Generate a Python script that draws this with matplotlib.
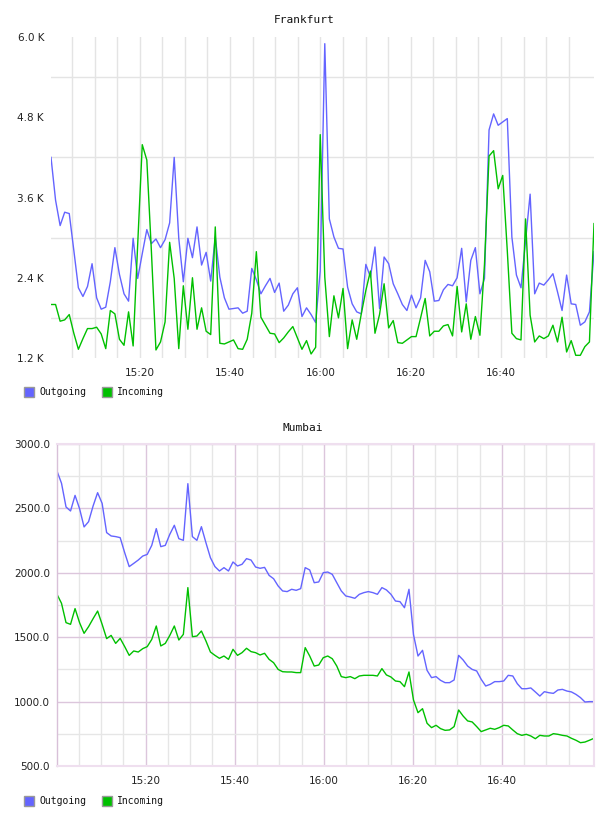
import matplotlib
matplotlib.use("Agg")
import matplotlib.pyplot as plt
import numpy as np
from matplotlib.patches import Rectangle

# --- data: one sample per ~minute, 15:00 -> 17:00 ---
tick_minutes = [20, 40, 60, 80, 100]          # minutes after 15:00
tick_labels = ["15:20", "15:40", "16:00", "16:20", "16:40"]

fra_span = (0.35, 120.6)   # first / last sample, minutes after 15:00
mum_span = (0.07, 120.7)

fra_out = [4200, 3560, 3180, 3380, 3360, 2810, 2250, 2120, 2270, 2610,
           2100, 1930, 1960, 2340, 2850, 2450, 2160, 2050, 2990, 2390,
           2760, 3120, 2910, 2980, 2850, 2970, 3220, 4200, 2990, 2340,
           2990, 2700, 3160, 2590, 2780, 2350, 3010, 2410, 2100, 1930,
           1940, 1950, 1870, 1900, 2540, 2370, 2160, 2280, 2390, 2180,
           2320, 1900, 1990, 2160, 2250, 1820, 1950, 1850, 1730, 2500,
           5900, 3280, 3010, 2840, 2830, 2260, 2010, 1890, 1860, 2600,
           2410, 2860, 1940, 2710, 2610, 2310, 2160, 2000, 1910, 2140,
           1950, 2100, 2660, 2490, 2050, 2060, 2220, 2300, 2280, 2400,
           2840, 2040, 2660, 2850, 2160, 2390, 4610, 4850, 4680, 4730,
           4780, 3010, 2440, 2250, 2950, 3650, 2160, 2320, 2290, 2370,
           2460, 2190, 1910, 2440, 2010, 2000, 1690, 1740, 1890, 2790]

fra_in = [2000, 2000, 1750, 1770, 1850, 1570, 1330, 1490, 1640, 1640,
          1660, 1560, 1340, 1910, 1860, 1480, 1390, 1890, 1380, 2900,
          4390, 4160, 2800, 1320, 1440, 1740, 2930, 2390, 1340, 2280,
          1630, 2400, 1630, 1950, 1600, 1550, 3160, 1420, 1410, 1440,
          1470, 1340, 1330, 1480, 1870, 2790, 1810, 1690, 1570, 1560,
          1430, 1500, 1590, 1670, 1500, 1330, 1460, 1260, 1360, 4540,
          2410, 1520, 2130, 1800, 2240, 1340, 1770, 1480, 1860, 2210,
          2500, 1570, 1850, 2310, 1650, 1760, 1430, 1420, 1470, 1520,
          1520, 1800, 2090, 1530, 1600, 1600, 1680, 1700, 1530, 2270,
          1590, 2010, 1480, 1820, 1540, 2600, 4220, 4300, 3730, 3930,
          2800, 1570, 1490, 1470, 3280, 1840, 1440, 1530, 1490, 1530,
          1690, 1440, 1810, 1290, 1460, 1240, 1240, 1370, 1440, 3210]

mum_out = [2790, 2695, 2511, 2480, 2601, 2498, 2356, 2397, 2519, 2622,
           2539, 2312, 2286, 2281, 2273, 2156, 2048, 2073, 2099, 2130,
           2143, 2213, 2343, 2203, 2213, 2299, 2369, 2265, 2252, 2692,
           2281, 2252, 2358, 2234, 2117, 2048, 2014, 2040, 2014, 2084,
           2053, 2066, 2110, 2099, 2045, 2035, 2042, 1980, 1954, 1898,
           1859, 1854, 1872, 1864, 1877, 2040, 2022, 1923, 1929, 2001,
           2006, 1988, 1923, 1859, 1820, 1812, 1802, 1833, 1846, 1854,
           1846, 1833, 1885, 1867, 1833, 1781, 1776, 1729, 1872, 1520,
           1354, 1398, 1243, 1186, 1194, 1165, 1147, 1147, 1168, 1359,
           1323, 1276, 1250, 1238, 1173, 1121, 1134, 1155, 1155, 1160,
           1204, 1199, 1139, 1100, 1100, 1106, 1075, 1043, 1077, 1069,
           1064, 1090, 1095, 1082, 1075, 1056, 1031, 997, 1000, 1000]

mum_in = [1833, 1763, 1613, 1600, 1722, 1613, 1530, 1582, 1644, 1703,
          1600, 1489, 1514, 1452, 1491, 1427, 1359, 1393, 1385, 1411,
          1427, 1483, 1587, 1432, 1452, 1514, 1587, 1478, 1522, 1885,
          1504, 1509, 1548, 1471, 1385, 1359, 1336, 1354, 1328, 1406,
          1359, 1380, 1414, 1388, 1380, 1362, 1375, 1328, 1302, 1250,
          1232, 1230, 1230, 1225, 1225, 1419, 1354, 1276, 1284, 1341,
          1354, 1333, 1276, 1194, 1186, 1194, 1178, 1199, 1204, 1204,
          1204, 1199, 1256, 1207, 1191, 1160, 1155, 1116, 1230, 1012,
          914, 945, 832, 798, 816, 790, 777, 780, 806, 935,
          888, 850, 842, 806, 767, 780, 793, 785, 798, 816,
          811, 780, 751, 738, 746, 733, 712, 738, 733, 733,
          751, 746, 738, 733, 715, 700, 681, 686, 700, 715]

BLUE = "#6464ff"
GREEN = "#00c000"
W, H = 608, 816

fig = plt.figure(figsize=(W / 100, H / 100), dpi=100)


def px_axes(left, top, right, bottom):
    return fig.add_axes([left / W, 1 - bottom / H, (right - left) / W, (bottom - top) / H])


def draw_legend(y_top):
    for x, color, label in [(24, BLUE, "Outgoing"), (102, GREEN, "Incoming")]:
        fig.add_artist(Rectangle((x / W, 1 - (y_top + 10) / H), 10 / W, 10 / H,
                                 transform=fig.transFigure, facecolor=color,
                                 edgecolor="#999999", lw=1))
        fig.text((x + 15) / W, 1 - (y_top + 5.5) / H, label, va="center",
                 family="DejaVu Sans Mono", size=7, color="#111111")


def style_ticks(ax):
    ax.tick_params(which="both", length=0, labelsize=7.5, labelcolor="#222222")
    ax.tick_params(axis="x", pad=7)
    ax.tick_params(axis="y", pad=5)
    ax.set_xticks(tick_minutes)
    ax.set_xticklabels(tick_labels)
    ax.set_xticks(np.arange(5, 120, 5), minor=True)
    ax.set_axisbelow(True)


# --- Frankfurt ---
ax1 = px_axes(51, 37, 594, 358)
t1 = np.linspace(fra_span[0], fra_span[1], len(fra_out))
ax1.plot(t1, fra_out, color=BLUE, lw=1.0)
ax1.plot(t1, fra_in, color=GREEN, lw=1.0)
ax1.set_xlim(fra_span)
ax1.set_ylim(1200, 6000)
style_ticks(ax1)
ax1.set_yticks([1200, 2400, 3600, 4800, 6000])
ax1.set_yticklabels(["1.2 K", "2.4 K", "3.6 K", "4.8 K", "6.0 K"])
ax1.set_yticks([1800, 3000, 4200, 5400], minor=True)
ax1.grid(True, axis="x", which="both", color="#e4e4e4", lw=1)
ax1.grid(True, axis="y", which="minor", color="#e4e4e4", lw=1)
for s in ax1.spines.values():
    s.set_visible(False)
fig.text(304 / W, 1 - 20 / H, "Frankfurt", ha="center", va="center",
         family="DejaVu Sans Mono", size=8, color="#111111")
draw_legend(387)

# --- Mumbai ---
ax2 = px_axes(57, 444, 594, 766)
t2 = np.linspace(mum_span[0], mum_span[1], len(mum_out))
ax2.plot(t2, mum_out, color=BLUE, lw=1.0)
ax2.plot(t2, mum_in, color=GREEN, lw=1.0)
ax2.set_xlim(mum_span)
ax2.set_ylim(500, 3000)
style_ticks(ax2)
ax2.set_yticks([500, 1000, 1500, 2000, 2500, 3000])
ax2.set_yticklabels(["500.0", "1000.0", "1500.0", "2000.0", "2500.0", "3000.0"])
ax2.set_yticks([750, 1250, 1750, 2250, 2750], minor=True)
ax2.grid(True, which="major", color="#dcc6dc", lw=1)
ax2.grid(True, which="minor", color="#e6e6e6", lw=1)
for name, s in ax2.spines.items():
    s.set_color("#efdfef")
    s.set_linewidth(1.5)
ax2.spines["left"].set_color("#d8c0d8")
ax2.spines["left"].set_linewidth(1)
fig.text(303 / W, 1 - 428 / H, "Mumbai", ha="center", va="center",
         family="DejaVu Sans Mono", size=8, color="#111111")
draw_legend(796)

fig.savefig("out.png", dpi=100)
